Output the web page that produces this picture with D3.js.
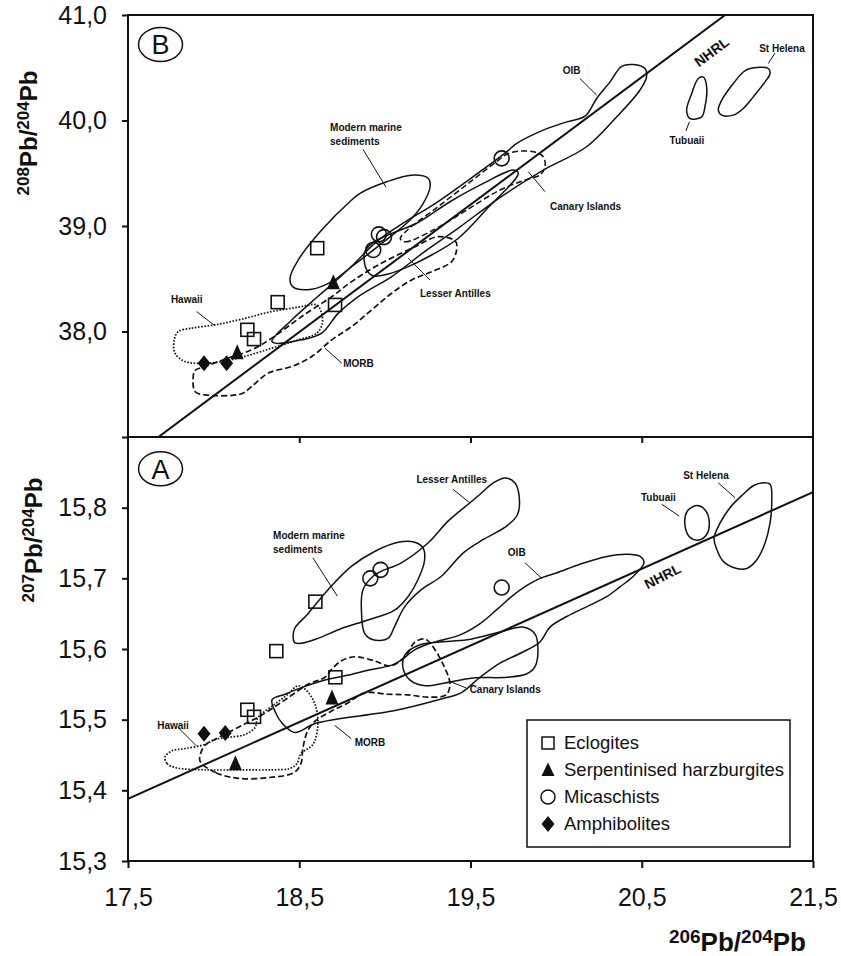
<!DOCTYPE html>
<html>
<head>
<meta charset="utf-8">
<script src="https://cdn.jsdelivr.net/npm/d3@7"></script>
<style>
  body { margin: 0; background: #fff; }
  text { font-family: "Liberation Sans", Arial, sans-serif; fill: #111; }
</style>
</head>
<body>
<svg id="chart"></svg>
<script>
// ---- panel B : 208Pb/204Pb vs 206Pb/204Pb ----
const eclogitesB = [[18.605, 38.79], [18.374, 38.278], [18.197, 38.016], [18.236, 37.928], [18.709, 38.252]];
const harzburgitesB = [[18.699, 38.458], [18.138, 37.795]];
const micaschistsB = [[18.965, 38.921], [18.995, 38.895], [18.932, 38.773], [19.682, 39.641]];
const amphibolitesB = [[17.944, 37.70], [18.076, 37.70]];

const oibB = [[18.34, 37.91], [18.45, 38.10], [18.60, 38.32], [18.70, 38.46], [18.82, 38.64], [18.95, 38.85], [19.10, 39.02], [19.30, 39.22], [19.50, 39.45], [19.711, 39.703], [19.77, 39.783], [19.925, 39.909], [20.062, 39.987], [20.169, 40.041], [20.237, 40.209], [20.315, 40.366], [20.383, 40.514], [20.451, 40.530], [20.519, 40.492], [20.528, 40.413], [20.489, 40.287], [20.354, 40.035], [20.178, 39.751], [19.925, 39.53], [19.672, 39.27], [19.429, 38.98], [19.234, 38.76], [19.04, 38.52], [18.845, 38.331], [18.728, 38.174], [18.631, 37.984], [18.514, 37.921], [18.358, 37.890]];
const lesserB = [[18.88, 38.742], [18.894, 38.584], [18.932, 38.527], [19.02, 38.546], [19.137, 38.615], [19.273, 38.725], [19.429, 38.884], [19.6, 39.17], [19.779, 39.499], [19.75, 39.53], [19.575, 39.404], [19.38, 39.23], [19.186, 39.026], [19.04, 38.93], [18.923, 38.836]];
const marineB = [[18.446, 38.505], [18.494, 38.678], [18.631, 38.962], [18.806, 39.246], [18.855, 39.31], [19.011, 39.419], [19.166, 39.483], [19.254, 39.451], [19.264, 39.372], [19.224, 39.215], [19.147, 39.057], [18.971, 38.821], [18.796, 38.602], [18.690, 38.473], [18.573, 38.401], [18.465, 38.420]];
const canaryB = [[19.09, 38.88], [19.118, 38.85], [19.283, 38.962], [19.478, 39.151], [19.672, 39.341], [19.847, 39.451], [19.906, 39.483], [19.935, 39.561], [19.925, 39.656], [19.867, 39.703], [19.731, 39.694], [19.66, 39.62], [19.5, 39.42], [19.3, 39.17], [19.13, 38.96]];
const morbB = [[17.881, 37.574], [17.891, 37.432], [17.95, 37.40], [18.164, 37.41], [18.222, 37.479], [18.319, 37.606], [18.456, 37.668], [18.573, 37.763], [18.69, 37.921], [18.806, 38.047], [18.923, 38.205], [19.04, 38.363], [19.157, 38.489], [19.273, 38.567], [19.39, 38.662], [19.419, 38.773], [19.414, 38.851], [19.312, 38.899], [19.176, 38.804], [18.962, 38.631], [18.806, 38.473], [18.69, 38.331], [18.514, 38.142], [18.339, 37.937], [18.222, 37.826], [18.066, 37.738], [17.95, 37.668], [17.891, 37.630]];
const hawaiiB = [[17.794, 38.0], [17.872, 38.032], [18.008, 38.063], [18.164, 38.117], [18.339, 38.189], [18.494, 38.23], [18.602, 38.252], [18.627, 38.189], [18.635, 38.079], [18.602, 37.984], [18.494, 37.921], [18.339, 37.842], [18.144, 37.748], [17.969, 37.70], [17.833, 37.716], [17.774, 37.795], [17.77, 37.921]];
const tubuaiiB = [[20.859, 40.413], [20.879, 40.319], [20.869, 40.129], [20.850, 40.035], [20.782, 40.019], [20.762, 40.098], [20.792, 40.256], [20.830, 40.398]];
const stHelenaB = [[21.132, 40.493], [21.239, 40.493], [21.249, 40.445], [21.220, 40.366], [21.151, 40.224], [21.093, 40.114], [21.035, 40.051], [20.967, 40.051], [20.947, 40.098], [20.967, 40.193], [21.035, 40.351], [21.093, 40.460]];
const nhrlB = [[17.6, 36.906], [21.1, 41.137]];

// ---- panel A : 207Pb/204Pb vs 206Pb/204Pb ----
const eclogitesA = [[18.594, 15.667], [18.366, 15.597], [18.197, 15.514], [18.236, 15.504], [18.711, 15.560]];
const harzburgitesA = [[18.691, 15.530], [18.127, 15.437]];
const micaschistsA = [[18.915, 15.700], [18.975, 15.712], [19.682, 15.687]];
const amphibolitesA = [[17.944, 15.480], [18.068, 15.481]];

const oibA = [[18.341, 15.528], [18.417, 15.536], [18.510, 15.545], [18.650, 15.556], [18.767, 15.562], [18.901, 15.570], [19.059, 15.579], [19.176, 15.599], [19.252, 15.607], [19.322, 15.612], [19.439, 15.620], [19.556, 15.636], [19.655, 15.656], [19.748, 15.676], [19.830, 15.690], [19.906, 15.700], [20.005, 15.708], [20.139, 15.720], [20.297, 15.731], [20.414, 15.734], [20.490, 15.731], [20.513, 15.722], [20.451, 15.703], [20.373, 15.688], [20.295, 15.674], [20.18, 15.66], [20.062, 15.646], [19.964, 15.631], [19.906, 15.61], [19.8, 15.595], [19.672, 15.58], [19.556, 15.56], [19.445, 15.538], [19.339, 15.53], [19.059, 15.513], [18.598, 15.495], [18.473, 15.482], [18.40, 15.495], [18.358, 15.512]];
const lesserA = [[18.931, 15.703], [18.872, 15.684], [18.863, 15.655], [18.882, 15.622], [18.931, 15.613], [19.018, 15.615], [19.057, 15.632], [19.116, 15.660], [19.213, 15.684], [19.330, 15.703], [19.458, 15.736], [19.575, 15.755], [19.711, 15.774], [19.774, 15.790], [19.785, 15.814], [19.760, 15.835], [19.702, 15.842], [19.633, 15.835], [19.556, 15.819], [19.497, 15.807], [19.369, 15.781], [19.252, 15.750], [19.096, 15.722], [18.979, 15.710]];
const marineA = [[18.464, 15.617], [18.473, 15.629], [18.551, 15.650], [18.668, 15.684], [18.804, 15.717], [18.940, 15.738], [19.077, 15.751], [19.174, 15.751], [19.223, 15.743], [19.232, 15.726], [19.193, 15.698], [19.135, 15.674], [19.057, 15.655], [18.901, 15.641], [18.746, 15.629], [18.609, 15.615], [18.512, 15.608], [18.473, 15.609]];
const canaryA = [[19.118, 15.592], [19.205, 15.606], [19.322, 15.610], [19.480, 15.613], [19.672, 15.624], [19.807, 15.631], [19.877, 15.621], [19.894, 15.599], [19.877, 15.575], [19.830, 15.565], [19.713, 15.560], [19.515, 15.559], [19.351, 15.552], [19.234, 15.548], [19.147, 15.556], [19.106, 15.573]];
const morbA = [[17.920, 15.442], [18.014, 15.425], [18.142, 15.417], [18.318, 15.418], [18.469, 15.425], [18.510, 15.438], [18.522, 15.461], [18.551, 15.485], [18.598, 15.499], [18.680, 15.511], [18.779, 15.523], [18.884, 15.538], [19.018, 15.536], [19.135, 15.535], [19.252, 15.532], [19.357, 15.535], [19.380, 15.550], [19.339, 15.579], [19.269, 15.607], [19.234, 15.614], [19.176, 15.610], [19.118, 15.589], [19.030, 15.576], [18.942, 15.583], [18.826, 15.589], [18.744, 15.583], [18.685, 15.570], [18.650, 15.560], [18.551, 15.550], [18.417, 15.528], [18.277, 15.506], [18.142, 15.489], [18.008, 15.472], [17.950, 15.464]];
const hawaiiA = [[17.716, 15.447], [17.728, 15.438], [17.780, 15.432], [17.961, 15.429], [18.166, 15.429], [18.341, 15.429], [18.446, 15.431], [18.487, 15.438], [18.510, 15.452], [18.580, 15.465], [18.609, 15.493], [18.592, 15.522], [18.539, 15.542], [18.493, 15.548], [18.434, 15.536], [18.358, 15.522], [18.259, 15.503], [18.242, 15.489], [18.183, 15.479], [18.084, 15.475], [18.008, 15.472], [17.950, 15.465], [17.833, 15.459], [17.757, 15.456]];
const tubuaiiA = [[20.821, 15.803], [20.869, 15.797], [20.894, 15.781], [20.879, 15.762], [20.830, 15.754], [20.782, 15.758], [20.753, 15.774], [20.766, 15.795]];
const stHelenaA = [[21.200, 15.835], [21.249, 15.833], [21.259, 15.807], [21.249, 15.778], [21.220, 15.750], [21.171, 15.726], [21.113, 15.714], [21.054, 15.714], [20.976, 15.724], [20.938, 15.741], [20.922, 15.757], [20.957, 15.778], [21.015, 15.800], [21.093, 15.819], [21.151, 15.831]];
const nhrlA = [[17.5, 15.388], [21.5, 15.822]];

// tick values and labels
const xTicks = [17.5, 18.5, 19.5, 20.5, 21.5];
const yTicksB = [37, 38, 39, 40, 41];
const yTicksA = [15.3, 15.4, 15.5, 15.6, 15.7, 15.8];
const legendNames = ["Eclogites", "Serpentinised harzburgites", "Micaschists", "Amphibolites"];

// field labels: [text, x, y, anchor], leaders: [x1, y1, x2, y2]
const labelsB = [
  ["Modern marine", 18.68, 39.937, "start"], ["sediments", 18.68, 39.805, "start"],
  ["Hawaii", 17.843, 38.306, "middle"], ["MORB", 18.757, 37.694, "start"],
  ["Lesser Antilles", 19.205, 38.363, "start"], ["Canary Islands", 19.964, 39.189, "start"],
  ["OIB", 20.091, 40.477, "middle"], ["Tubuaii", 20.764, 39.814, "middle"],
  ["St Helena", 21.319, 40.682, "middle"]
];
const leadersB = [
  [18.872, 39.727, 19.007, 39.367], [17.901, 38.189, 18.008, 38.053], [18.65, 37.842, 18.748, 37.70],
  [19.263, 38.489, 19.137, 38.694], [19.935, 39.325, 19.838, 39.514], [20.139, 40.398, 20.237, 40.24],
  [20.778, 39.987, 20.758, 39.902], [21.278, 40.64, 21.239, 40.54]
];
const labelsA = [
  ["Modern marine", 18.347, 15.760, "start"], ["sediments", 18.347, 15.741, "start"],
  ["Lesser Antilles", 19.184, 15.840, "start"], ["Hawaii", 17.763, 15.492, "middle"],
  ["MORB", 18.824, 15.468, "start"], ["Canary Islands", 19.495, 15.542, "start"],
  ["OIB", 19.770, 15.737, "middle"], ["Tubuaii", 20.597, 15.814, "middle"],
  ["St Helena", 20.875, 15.845, "middle"]
];
const leadersA = [
  [18.580, 15.729, 18.722, 15.675], [19.398, 15.826, 19.495, 15.807], [17.792, 15.489, 17.899, 15.463],
  [18.707, 15.492, 18.804, 15.473], [19.380, 15.554, 19.474, 15.545], [19.818, 15.722, 19.916, 15.700],
  [20.616, 15.805, 20.719, 15.788], [20.947, 15.835, 21.045, 15.814]
];

const width = 841;
const height = 956;
const svg = d3.select("#chart").attr("width", width).attr("height", height);

const x = d3.scaleLinear().domain([17.5, 21.5]).range([128, 813]);
const yB = d3.scaleLinear().domain([37, 41]).range([437, 15]);
const yA = d3.scaleLinear().domain([15.3, 15.9]).range([861, 437]);

const comma = (d) => d.toFixed(1).replace(".", ",");

// clip paths for the two panels
const defs = svg.append("defs");
defs.append("clipPath").attr("id", "clipB").append("rect")
  .attr("x", x(17.5)).attr("y", yB(41)).attr("width", x(21.5) - x(17.5)).attr("height", yB(37) - yB(41));
defs.append("clipPath").attr("id", "clipA").append("rect")
  .attr("x", x(17.5)).attr("y", yA(15.9)).attr("width", x(21.5) - x(17.5)).attr("height", yA(15.3) - yA(15.9));

const drawPanel = (y, clip, p) => {
  const g = svg.append("g").attr("clip-path", `url(#${clip})`);
  const shape = d3.line().x((d) => x(d[0])).y((d) => y(d[1])).curve(d3.curveCatmullRomClosed.alpha(0.5));

  const field = (pts, dash, sw) =>
    g.append("path").attr("d", shape(pts)).attr("fill", "none").attr("stroke", "#111")
      .attr("stroke-width", sw || 1.5).attr("stroke-dasharray", dash || null);

  field(p.marine);
  field(p.lesser);
  field(p.oib);
  field(p.canary, p.canaryDash);
  field(p.morb, "6,3", 1.7);
  field(p.hawaii, "1.6,1.6", 1.7);
  field(p.tubuaii);
  field(p.stHelena);

  g.append("path")
    .attr("d", d3.line().x((d) => x(d[0])).y((d) => y(d[1]))(p.nhrl))
    .attr("fill", "none").attr("stroke", "#111").attr("stroke-width", 2);

  g.selectAll(".leader").data(p.leaders).enter().append("line")
    .attr("x1", (d) => x(d[0])).attr("y1", (d) => y(d[1]))
    .attr("x2", (d) => x(d[2])).attr("y2", (d) => y(d[3]))
    .attr("stroke", "#111").attr("stroke-width", 1);

  svg.selectAll(null).data(p.labels).enter().append("text")
    .attr("x", (d) => x(d[1])).attr("y", (d) => y(d[2]))
    .attr("text-anchor", (d) => d[3]).attr("dy", "0.35em")
    .attr("font-size", 10).attr("font-weight", "bold")
    .text((d) => d[0]);

  // sample symbols
  g.selectAll(null).data(p.ecl).enter().append("rect")
    .attr("x", (d) => x(d[0]) - 6.5).attr("y", (d) => y(d[1]) - 6.5)
    .attr("width", 13).attr("height", 13)
    .attr("fill", "none").attr("stroke", "#111").attr("stroke-width", 1.6);
  g.selectAll(null).data(p.mica).enter().append("circle")
    .attr("cx", (d) => x(d[0])).attr("cy", (d) => y(d[1])).attr("r", 7.5)
    .attr("fill", "none").attr("stroke", "#111").attr("stroke-width", 1.6);
  g.selectAll(null).data(p.harz).enter().append("path")
    .attr("d", "M0,-9L6.5,6L-6.5,6Z")
    .attr("transform", (d) => `translate(${x(d[0])},${y(d[1])})`).attr("fill", "#111");
  g.selectAll(null).data(p.amph).enter().append("path")
    .attr("d", "M0,-8L6.5,0L0,8L-6.5,0Z")
    .attr("transform", (d) => `translate(${x(d[0])},${y(d[1])})`).attr("fill", "#111");
};

drawPanel(yB, "clipB", {
  marine: marineB, lesser: lesserB, oib: oibB, canary: canaryB, canaryDash: "6,3",
  morb: morbB, hawaii: hawaiiB, tubuaii: tubuaiiB, stHelena: stHelenaB, nhrl: nhrlB,
  leaders: leadersB, labels: labelsB,
  ecl: eclogitesB, harz: harzburgitesB, mica: micaschistsB, amph: amphibolitesB
});
drawPanel(yA, "clipA", {
  marine: marineA, lesser: lesserA, oib: oibA, canary: canaryA, canaryDash: null,
  morb: morbA, hawaii: hawaiiA, tubuaii: tubuaiiA, stHelena: stHelenaA, nhrl: nhrlA,
  leaders: leadersA, labels: labelsA,
  ecl: eclogitesA, harz: harzburgitesA, mica: micaschistsA, amph: amphibolitesA
});

// NHRL labels
svg.append("text").attr("transform", `translate(${x(20.908)},${yB(40.65)}) rotate(-37)`)
  .attr("text-anchor", "middle").attr("dy", "0.35em").attr("font-size", 14).attr("font-weight", "bold").text("NHRL");
svg.append("text").attr("transform", `translate(${x(20.622)},${yA(15.703)}) rotate(-27)`)
  .attr("text-anchor", "middle").attr("dy", "0.35em").attr("font-size", 14).attr("font-weight", "bold").text("NHRL");

// frame
svg.append("rect").attr("x", x(17.5)).attr("y", yB(41))
  .attr("width", x(21.5) - x(17.5)).attr("height", yA(15.3) - yB(41))
  .attr("fill", "none").attr("stroke", "#111").attr("stroke-width", 2);
svg.append("line").attr("x1", x(17.5)).attr("x2", x(21.5)).attr("y1", yB(37)).attr("y2", yB(37))
  .attr("stroke", "#111").attr("stroke-width", 2);

const styleAxis = (g, size) => {
  g.select(".domain").remove();
  g.selectAll(".tick line").attr("stroke", "#111").attr("stroke-width", 2);
  g.selectAll(".tick text").attr("font-size", size).attr("fill", "#111")
    .attr("font-family", '"Liberation Sans", Arial, sans-serif');
};

svg.append("g").attr("transform", `translate(${x(17.5)},0)`)
  .call(d3.axisLeft(yB).tickValues(yTicksB).tickSize(6).tickPadding(15)
    .tickFormat((d) => (d === 37 ? "" : comma(d))))
  .call((g) => styleAxis(g, 25));
svg.append("g").attr("transform", `translate(${x(17.5)},0)`)
  .call(d3.axisLeft(yA).tickValues(yTicksA).tickSize(6).tickPadding(15).tickFormat(comma))
  .call((g) => styleAxis(g, 25));
svg.append("g").attr("transform", `translate(0,${yA(15.3)})`)
  .call(d3.axisBottom(x).tickValues(xTicks).tickSize(7).tickPadding(20).tickFormat(comma))
  .call((g) => styleAxis(g, 25));
svg.append("g").attr("transform", `translate(0,${yB(37)})`)
  .call(d3.axisBottom(x).tickValues(xTicks.slice(1, 4)).tickSize(6).tickFormat(""))
  .call((g) => styleAxis(g, 25));

// axis titles
const isoTitle = (sel, a, big, small) => {
  sel.attr("font-weight", "bold").attr("font-size", big);
  sel.append("tspan").attr("font-size", small).attr("dy", -big * 0.32).text(a);
  sel.append("tspan").attr("dy", big * 0.32).text("Pb/");
  sel.append("tspan").attr("font-size", small).attr("dy", -big * 0.32).text("204");
  sel.append("tspan").attr("dy", big * 0.32).text("Pb");
};
svg.append("text").attr("transform", "translate(37,133) rotate(-90)")
  .attr("text-anchor", "middle").call((s) => isoTitle(s, "208", 24, 17));
svg.append("text").attr("transform", "translate(42,540) rotate(-90)")
  .attr("text-anchor", "middle").call((s) => isoTitle(s, "207", 24, 17));
svg.append("text").attr("x", 806).attr("y", 951)
  .attr("text-anchor", "end").call((s) => isoTitle(s, "206", 26, 19));

// panel tags
[["B", 17.69, yB(40.72)], ["A", 17.69, yA(15.855)]].forEach(([t, xv, py]) => {
  svg.append("ellipse").attr("cx", x(xv)).attr("cy", py).attr("rx", 22).attr("ry", 17)
    .attr("fill", "#fff").attr("stroke", "#111").attr("stroke-width", 1.5);
  svg.append("text").attr("x", x(xv)).attr("y", py).attr("dy", "0.36em")
    .attr("text-anchor", "middle").attr("font-size", 27).text(t);
});

// legend
const legend = svg.append("g").attr("transform", "translate(527,720)");
legend.append("rect").attr("width", 263).attr("height", 127)
  .attr("fill", "#fff").attr("stroke", "#111").attr("stroke-width", 1.5);
const rows = legend.selectAll(".row").data(legendNames).enter().append("g")
  .attr("transform", (d, i) => `translate(21,${23 + i * 27})`);
rows.append("text").attr("x", 16).attr("dy", "0.35em").attr("font-size", 18.5).text((d) => d);
rows.filter((d, i) => i === 0).append("rect").attr("x", -6).attr("y", -6).attr("width", 12).attr("height", 12)
  .attr("fill", "none").attr("stroke", "#111").attr("stroke-width", 1.5);
rows.filter((d, i) => i === 1).append("path").attr("d", "M0,-7.5L6.5,6L-6.5,6Z").attr("fill", "#111");
rows.filter((d, i) => i === 2).append("circle").attr("r", 7)
  .attr("fill", "none").attr("stroke", "#111").attr("stroke-width", 1.5);
rows.filter((d, i) => i === 3).append("path").attr("d", "M0,-8L6.5,0L0,8L-6.5,0Z").attr("fill", "#111");
</script>
</body>
</html>
